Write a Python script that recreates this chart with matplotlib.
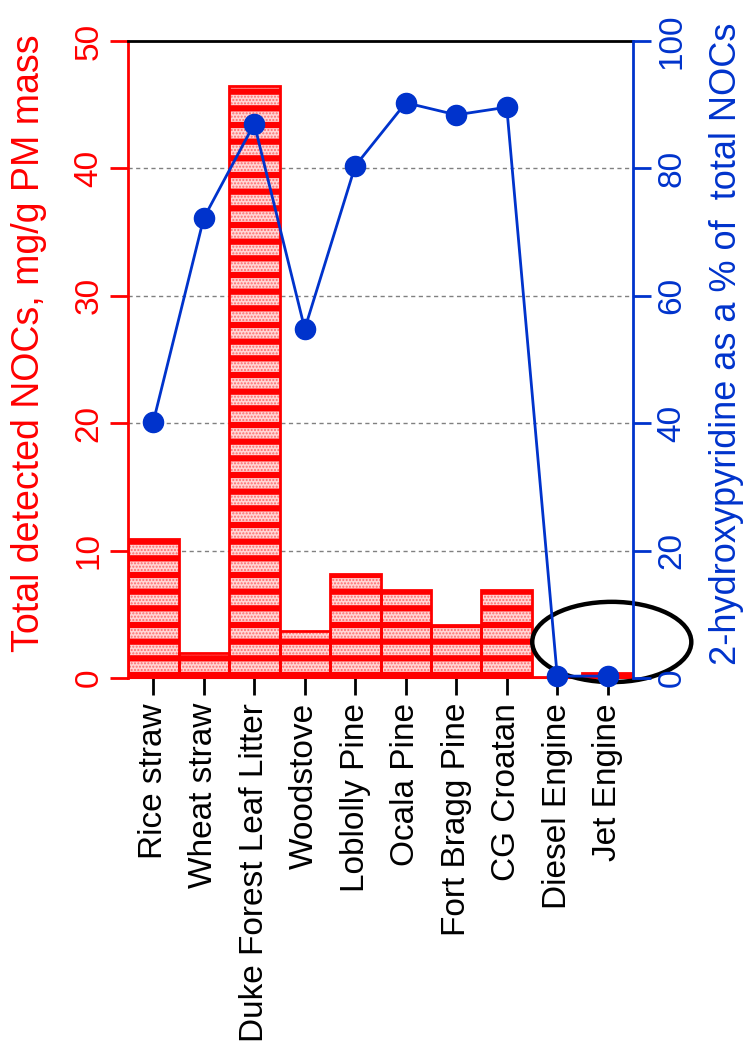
import numpy as np
import matplotlib
matplotlib.use('Agg')
import matplotlib.pyplot as plt
from matplotlib.patches import Ellipse

plt.rcParams['font.family'] = ['Liberation Sans', 'DejaVu Sans']

# NOC totals (mg/g PM) and 2-hydroxypyridine share (%) per source
sources = ['Rice straw', 'Wheat straw', 'Duke Forest Leaf Litter', 'Woodstove',
           'Loblolly Pine', 'Ocala Pine', 'Fort Bragg Pine', 'CG Croatan',
           'Diesel Engine', 'Jet Engine']
total_nocs = [10.9, 2.0, 46.5, 3.7, 8.2, 6.9, 4.2, 6.9, 0.1, 0.4]
hp_percent = [40.2, 72.2, 87.0, 54.8, 80.4, 90.3, 88.4, 89.6, 0.3, 0.3]

RED = '#ff0000'
BLUE = '#0033cc'
FS = 24

fig = plt.figure(figsize=(7.54, 10.42), dpi=100)
ax = fig.add_axes([0.1698, 0.3493, 0.6697, 0.6114])
x = np.arange(len(sources))

# dotted pink base layer, then thick red stripes on top
plt.rcParams['hatch.linewidth'] = 1.0
base = ax.bar(x, total_nocs, width=1.0, facecolor='#ffd6d6', edgecolor='#ff6a6a',
              hatch='.....', linewidth=0, zorder=2)
plt.rcParams['hatch.linewidth'] = 4.5
stripes = ax.bar(x, total_nocs, width=1.0, facecolor='none', edgecolor=RED,
                 hatch='-', linewidth=2.0, zorder=3)
for p in base:
    if hasattr(p, 'set_hatch_linewidth'):
        p.set_hatch_linewidth(1.0)
for p in stripes:
    if hasattr(p, 'set_hatch_linewidth'):
        p.set_hatch_linewidth(4.5)

ax.set_xlim(-0.5, 9.5)
ax.set_ylim(0, 50)
ax.set_yticks([0, 10, 20, 30, 40, 50])
ax.set_xticks(x)
ax.set_xticklabels(sources, rotation=90, fontsize=FS)
ax.tick_params(axis='x', length=12, width=2, color='black', pad=6)
ax.tick_params(axis='y', length=13, width=2, colors=RED, labelsize=FS, pad=4)
for lbl in ax.get_yticklabels():
    lbl.set_rotation(90)
    lbl.set_va('center')
ax.set_ylabel('Total detected NOCs, mg/g PM mass', color=RED, fontsize=27)
ax.yaxis.set_label_coords(-0.16, 0.525)

for y in [10, 20, 30, 40]:
    ax.axhline(y, color='#808080', linestyle=(0, (3, 2.5)), linewidth=1.0, zorder=1)

ax.spines['left'].set_color(RED)
ax.spines['left'].set_linewidth(2)
ax.spines['bottom'].set_color(RED)
ax.spines['bottom'].set_linewidth(1.5)
ax.spines['top'].set_color('black')
ax.spines['top'].set_linewidth(2)
ax.spines['right'].set_visible(False)

ax2 = ax.twinx()
ax2.plot(x, hp_percent, color=BLUE, linewidth=2, marker='o', markersize=14.5,
         clip_on=False, zorder=5)
ax2.set_ylim(0, 100)
ax2.set_yticks([0, 20, 40, 60, 80, 100])
ax2.tick_params(axis='y', length=13, width=2, colors=BLUE, labelsize=FS, pad=4)
for lbl in ax2.get_yticklabels():
    lbl.set_rotation(90)
    lbl.set_va('center')
ax2.set_ylabel('2-hydroxypyridine as a % of  total NOCs', color=BLUE, fontsize=26)
ax2.yaxis.set_label_coords(1.15, 0.525)
ax2.spines['right'].set_color(BLUE)
ax2.spines['right'].set_linewidth(2)
for s in ['left', 'top', 'bottom']:
    ax2.spines[s].set_visible(False)

# highlight the engine sources
ax.add_patch(Ellipse((9.08, 2.83), 3.15, 6.3, fill=False, edgecolor='black',
                     linewidth=3.2, clip_on=False, zorder=6))

fig.savefig('out.png', dpi=100)
